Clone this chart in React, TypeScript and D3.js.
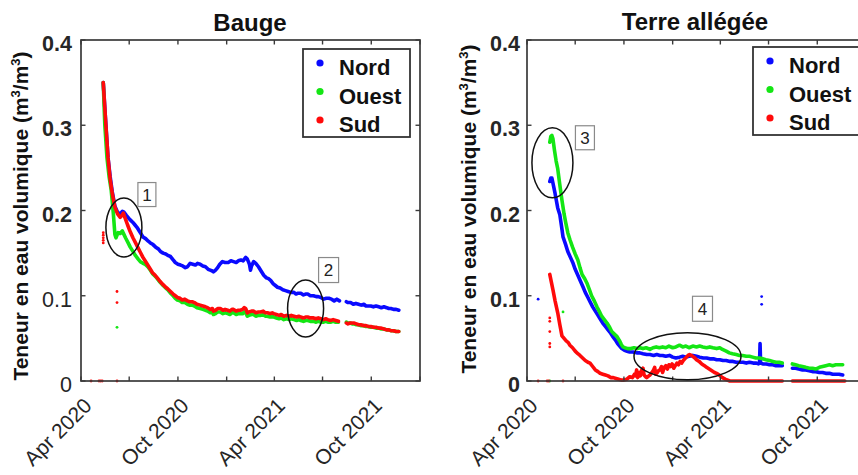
import React from "react";
import * as d3 from "d3";

// ---------- DATA ----------
// Time origin of both panels; series are [days since START, value] (null = gap)
const START = "2020-04-01";
const END = "2022-01-01";
const Y_TICKS = [0, 0.1, 0.2, 0.3, 0.4];
const Y_TICK_LABELS = ["0", "0.1", "0.2", "0.3", "0.4"];
const X_TICK_DATES = ["2020-04-01", "2020-07-01", "2020-10-01", "2021-01-01", "2021-04-01", "2021-07-01", "2021-10-01", "2022-01-01"];
const X_LABEL_DATES = ["2020-04-01", "2020-10-01", "2021-04-01", "2021-10-01"];
const X_LABELS = ["Apr 2020", "Oct 2020", "Apr 2021", "Oct 2021"];
const SERIES_NAMES = ["Nord", "Ouest", "Sud"];
const PANEL_TITLES = ["Bauge", "Terre allégée"];
const Y_LABEL = "Teneur en eau volumique (m";

type Pt = [number, number | null];

const BAUGE_NORD: Pt[] = [[42,0.350],[46,0.31],[51,0.262],[55,0.240],[59,0.222],[64,0.205],[69,0.198],[74,0.196],[78,0.199],[81,0.198],[86,0.194],[90,0.191],[93,0.189],[98,0.186],[102,0.183],[106,0.180],[110,0.176],[114,0.172],[117,0.169],[122,0.167],[127,0.164],[131,0.162],[136,0.160],[141,0.157],[146,0.155],[150,0.152],[155,0.150],[160,0.149],[165,0.147],[169,0.146],[174,0.142],[178,0.139],[183,0.137],[188,0.136],[192,0.135],[197,0.133],[201,0.134],[206,0.138],[211,0.137],[216,0.136],[220,0.138],[225,0.137],[230,0.135],[235,0.134],[240,0.131],[244,0.130],[248,0.129],[250,0.128],[254,0.130],[258,0.133],[262,0.137],[267,0.140],[272,0.139],[278,0.139],[283,0.141],[288,0.140],[293,0.139],[297,0.141],[302,0.142],[306,0.141],[311,0.145],[314,0.143],[316,0.140],[318,0.137],[320,0.130],[322,0.135],[326,0.140],[330,0.138],[335,0.134],[340,0.129],[345,0.124],[350,0.121],[354,0.120],[358,0.118],[363,0.114],[367,0.112],[371,0.110],[376,0.109],[381,0.107],[386,0.106],[391,0.105],[396,0.104],[402,0.104],[406,0.102],[410,0.103],[415,0.103],[420,0.101],[424,0.102],[428,0.102],[433,0.100],[439,0.100],[444,0.099],[448,0.099],[453,0.098],[458,0.096],[463,0.097],[468,0.097],[473,0.096],[478,0.094],[483,0.096],[488,0.094],[495,null],[501,0.093],[504,0.092],[509,0.092],[514,0.090],[519,0.091],[524,0.090],[529,0.089],[534,0.090],[538,0.088],[542,0.088],[547,0.088],[552,0.087],[557,0.088],[562,0.087],[567,0.086],[572,0.087],[577,0.086],[581,0.085],[585,0.085],[590,0.084],[595,0.084],[600,0.083]];

const BAUGE_OUEST: Pt[] = [[42,0.350],[45,0.300],[49,0.262],[53,0.240],[57,0.224],[61,0.197],[64,0.172],[66,0.168],[70,0.174],[74,0.173],[78,0.176],[81,0.172],[84,0.168],[89,0.162],[93,0.157],[98,0.152],[103,0.147],[108,0.143],[112,0.140],[117,0.138],[121,0.137],[126,0.134],[131,0.130],[135,0.126],[140,0.123],[144,0.120],[149,0.116],[155,0.112],[160,0.109],[164,0.107],[169,0.103],[174,0.100],[178,0.097],[182,0.095],[187,0.094],[191,0.092],[196,0.092],[201,0.090],[205,0.089],[210,0.089],[214,0.088],[219,0.086],[225,0.085],[230,0.084],[235,0.083],[239,0.082],[244,0.080],[248,0.081],[250,0.078],[254,0.079],[258,0.081],[263,0.081],[268,0.079],[272,0.080],[277,0.079],[281,0.078],[285,0.080],[288,0.080],[293,0.078],[297,0.079],[301,0.079],[305,0.079],[308,0.081],[311,0.080],[314,0.076],[317,0.077],[322,0.078],[326,0.078],[330,0.076],[335,0.077],[339,0.077],[344,0.078],[348,0.076],[352,0.076],[357,0.075],[361,0.076],[364,0.075],[369,0.074],[374,0.073],[378,0.074],[383,0.072],[388,0.073],[393,0.072],[397,0.073],[402,0.072],[407,0.071],[411,0.072],[415,0.071],[420,0.070],[424,0.071],[428,0.071],[433,0.070],[439,0.070],[444,0.069],[448,0.070],[453,0.069],[458,0.069],[462,0.070],[466,0.069],[471,0.069],[476,0.070],[481,0.069],[486,0.069],[495,null],[501,0.069],[504,0.068],[508,0.068],[512,0.067],[515,0.067],[520,0.066],[524,0.066],[528,0.065],[533,0.065],[538,0.064],[542,0.064],[547,0.063],[552,0.063],[557,0.062],[562,0.062],[567,0.061],[572,0.061],[577,0.060],[581,0.060],[585,0.059],[590,0.059],[595,0.058],[600,0.058]];

const BAUGE_SUD: Pt[] = [[42,0.350],[47,0.300],[51,0.262],[55,0.237],[59,0.220],[64,0.204],[69,0.196],[74,0.192],[77,0.194],[80,0.197],[84,0.190],[88,0.183],[93,0.175],[98,0.168],[103,0.162],[107,0.157],[112,0.151],[117,0.145],[121,0.141],[126,0.136],[131,0.131],[135,0.127],[140,0.124],[144,0.121],[149,0.117],[155,0.113],[160,0.110],[164,0.108],[169,0.105],[174,0.102],[178,0.100],[182,0.098],[187,0.097],[191,0.095],[196,0.096],[201,0.094],[205,0.093],[210,0.093],[214,0.092],[219,0.090],[225,0.089],[230,0.088],[235,0.087],[239,0.086],[244,0.084],[248,0.085],[250,0.082],[254,0.083],[258,0.085],[263,0.085],[268,0.083],[272,0.084],[277,0.083],[281,0.082],[285,0.084],[288,0.084],[293,0.082],[297,0.083],[301,0.083],[305,0.084],[308,0.086],[311,0.085],[314,0.080],[317,0.081],[322,0.082],[326,0.082],[330,0.080],[335,0.081],[339,0.081],[344,0.082],[348,0.080],[352,0.080],[357,0.079],[361,0.080],[364,0.079],[369,0.078],[374,0.077],[378,0.078],[383,0.076],[388,0.077],[393,0.076],[397,0.077],[402,0.076],[407,0.075],[411,0.076],[415,0.075],[420,0.074],[424,0.075],[428,0.075],[433,0.074],[439,0.074],[444,0.073],[448,0.074],[453,0.073],[458,0.072],[462,0.073],[466,0.072],[471,0.071],[476,0.072],[481,0.071],[486,0.070],[495,null],[501,0.068],[504,0.067],[508,0.068],[512,0.068],[515,0.068],[520,0.067],[524,0.066],[528,0.066],[533,0.065],[538,0.065],[542,0.064],[547,0.064],[552,0.063],[557,0.063],[562,0.062],[567,0.062],[572,0.061],[577,0.060],[581,0.060],[585,0.059],[590,0.059],[595,0.058],[600,0.058]];

const TERRE_NORD: Pt[] = [[43,0.234],[45,0.238],[47,0.238],[49,0.232],[53,0.220],[58,0.203],[62,0.195],[66,0.178],[68,0.169],[73,0.160],[77,0.152],[82,0.145],[87,0.138],[91,0.131],[96,0.124],[101,0.117],[106,0.110],[110,0.104],[115,0.098],[119,0.093],[124,0.087],[129,0.082],[134,0.077],[138,0.073],[143,0.068],[148,0.064],[153,0.060],[158,0.056],[162,0.052],[167,0.048],[171,0.044],[175,0.041],[179,0.038],[184,0.036],[189,0.035],[194,0.034],[200,0.034],[207,0.033],[213,0.033],[219,0.032],[226,0.031],[232,0.031],[239,0.030],[245,0.031],[251,0.030],[256,0.030],[262,0.029],[269,0.030],[275,0.028],[281,0.027],[288,0.028],[294,0.029],[300,0.028],[306,0.029],[313,0.030],[320,0.029],[326,0.028],[333,0.027],[339,0.027],[345,0.026],[352,0.026],[358,0.025],[364,0.025],[370,0.024],[376,0.024],[383,0.023],[389,0.023],[395,0.022],[401,0.022],[408,0.022],[414,0.021],[420,0.022],[427,0.021],[433,0.021],[437,0.020],[439,0.021],[440,0.044],[441,0.021],[446,0.020],[452,0.020],[458,0.019],[464,0.019],[470,0.018],[476,0.018],[482,0.018],[492,null],[501,0.015],[507,0.015],[513,0.014],[520,0.013],[526,0.013],[533,0.012],[539,0.011],[545,0.011],[552,0.010],[558,0.010],[564,0.009],[571,0.009],[577,0.008],[583,0.008],[589,0.008],[596,0.007]];

const TERRE_OUEST: Pt[] = [[43,0.280],[45,0.287],[47,0.288],[49,0.284],[52,0.270],[55,0.258],[58,0.249],[62,0.230],[66,0.212],[70,0.196],[73,0.186],[77,0.174],[81,0.166],[86,0.157],[91,0.149],[96,0.142],[100,0.133],[104,0.125],[109,0.120],[113,0.115],[118,0.107],[122,0.100],[127,0.094],[132,0.087],[137,0.081],[141,0.076],[146,0.072],[151,0.068],[156,0.063],[160,0.058],[165,0.055],[170,0.052],[175,0.047],[178,0.043],[181,0.040],[185,0.039],[190,0.038],[196,0.038],[202,0.039],[208,0.038],[213,0.039],[219,0.038],[225,0.039],[232,0.037],[238,0.039],[244,0.040],[250,0.039],[256,0.040],[262,0.039],[268,0.041],[275,0.039],[281,0.040],[288,0.042],[294,0.040],[300,0.041],[306,0.039],[313,0.041],[320,0.040],[326,0.041],[332,0.040],[339,0.039],[345,0.040],[351,0.039],[358,0.038],[364,0.039],[369,0.037],[376,0.035],[382,0.033],[388,0.032],[395,0.031],[401,0.030],[407,0.030],[414,0.029],[420,0.029],[426,0.028],[432,0.027],[439,0.027],[445,0.026],[451,0.025],[458,0.024],[464,0.023],[470,0.022],[476,0.022],[482,0.021],[492,null],[501,0.020],[507,0.019],[513,0.018],[520,0.017],[526,0.016],[533,0.015],[539,0.015],[545,0.014],[552,0.016],[558,0.017],[564,0.018],[571,0.019],[577,0.018],[583,0.019],[589,0.019],[596,0.019]];

const TERRE_SUD: Pt[] = [[43,0.125],[46,0.116],[49,0.107],[53,0.094],[58,0.080],[62,0.066],[66,0.053],[70,0.050],[74,0.047],[78,0.045],[81,0.042],[86,0.039],[91,0.035],[96,0.032],[100,0.030],[105,0.027],[110,0.024],[115,0.022],[119,0.021],[124,0.017],[129,0.013],[134,0.011],[138,0.009],[143,0.008],[148,0.007],[153,0.006],[158,0.004],[163,0.004],[168,0.003],[173,0.002],[178,0.001],[183,0.001],[188,0.002],[194,0.005],[199,0.004],[203,0.008],[205,0.006],[207,0.013],[209,0.004],[212,0.010],[214,0.006],[216,0.012],[219,0.015],[221,0.007],[224,0.005],[226,0.004],[230,0.006],[232,0.007],[236,0.010],[239,0.013],[241,0.016],[243,0.008],[246,0.010],[248,0.012],[251,0.013],[254,0.017],[256,0.010],[259,0.016],[262,0.018],[265,0.014],[268,0.019],[271,0.017],[274,0.020],[277,0.015],[280,0.018],[283,0.021],[286,0.019],[289,0.023],[292,0.021],[295,0.024],[298,0.026],[301,0.028],[304,0.030],[307,0.031],[310,0.030],[313,0.029],[317,0.027],[320,0.025],[325,0.023],[330,0.020],[335,0.018],[339,0.016],[344,0.014],[349,0.012],[354,0.010],[358,0.009],[363,0.007],[369,0.004],[375,0.002],[383,0.000],[400,0.000],[440,0.000],[482,0.000],[492,null],[501,0.000],[550,0.000],[600,0.000]];

// isolated readings (outliers) [day, value]
const BAUGE_NORD_PTS: [number, number][] = [];
const BAUGE_OUEST_PTS: [number, number][] = [[68,0.063]];
const BAUGE_SUD_PTS: [number, number][] = [[42,0.162],[42,0.165],[42,0.168],[42,0.171],[42,0.174],[68,0.105],[68,0.092],[19,0],[34,0],[37,0],[40,0],[68,0]];
const TERRE_NORD_PTS: [number, number][] = [[21,0.096],[443,0.099],[443,0.090]];
const TERRE_OUEST_PTS: [number, number][] = [[68,0.081],[43,0]];
const TERRE_SUD_PTS: [number, number][] = [[43,0.074],[43,0.070],[43,0.058],[43,0.044],[43,0.040],[21,0],[38,0],[41,0],[68,0]];

// annotations: [day, value, number]
const BAUGE_NOTES: [number, number, string][] = [[81, 0.180, "1"], [424, 0.085, "2"]];
const TERRE_NOTES: [number, number, string][] = [[48, 0.256, "3"], [303, 0.029, "4"]];

// ---------- STYLE ----------
const COLORS = ["#0a0aff", "#14e614", "#ff0a0a"];
const FONT = "'Liberation Sans', Arial, Helvetica, sans-serif";
const AX = "#3a3a3a";

type PanelCfg = {
  x0: number; x1: number; y0: number; y1: number;
  title: string; titleX: number; titleY: number;
  series: Pt[][]; pts: [number, number][][];
  legendX: number; legendY: number; legendW: number;
  ylabX: number; ylabY: number; tickLabX: number;
  lightLow: boolean;
  notes: [number, number, string][];
  ell: { rx: number; ry: number; bx: number; by: number; bw: number; bh: number }[];
};

const start = d3.timeParse("%Y-%m-%d")(START)!;
const end = d3.timeParse("%Y-%m-%d")(END)!;
const parse = d3.timeParse("%Y-%m-%d");

function Panel({ c }: { c: PanelCfg }) {
  const x = d3.scaleTime().domain([start, end]).range([c.x0, c.x1]);
  const y = d3.scaleLinear().domain([0, 0.4]).range([c.y1, c.y0]);
  const xd = (d: number) => x(d3.timeDay.offset(start, d));
  const line = d3.line<Pt>()
    .defined((d) => d[1] != null)
    .x((d) => xd(d[0]))
    .y((d) => y(d[1] as number));
  const tk = 4.5;
  return (
    <g>
      <text x={c.titleX} y={c.titleY} textAnchor="middle" fontFamily={FONT} fontWeight="bold" fontSize={24} fill="#111">{c.title}</text>
      <rect x={c.x0} y={c.y0} width={c.x1 - c.x0} height={c.y1 - c.y0} fill="white" stroke="none" />
      {c.series.map((s, i) => (
        <path key={i} d={line(s) || ""} fill="none" stroke={COLORS[i]} strokeWidth={3.6} strokeLinejoin="round" strokeLinecap="round" />
      ))}
      {c.pts.map((p, i) => p.map((d, j) => (
        <circle key={i + "-" + j} cx={xd(d[0])} cy={y(d[1])} r={1.4} fill={COLORS[i]} />
      )))}
      <rect x={c.x0} y={c.y0} width={c.x1 - c.x0} height={c.y1 - c.y0} fill="none" stroke={AX} strokeWidth={1.7} />
      {X_TICK_DATES.map((s, i) => {
        const xx = x(parse(s)!);
        return (
          <g key={i}>
            <line x1={xx} x2={xx} y1={c.y1} y2={c.y1 - tk} stroke={AX} strokeWidth={1.4} />
            <line x1={xx} x2={xx} y1={c.y0} y2={c.y0 + tk} stroke={AX} strokeWidth={1.4} />
          </g>
        );
      })}
      {Y_TICKS.map((v, i) => (
        <g key={i}>
          <line x1={c.x0} x2={c.x0 + tk} y1={y(v)} y2={y(v)} stroke={AX} strokeWidth={1.4} />
          <line x1={c.x1} x2={c.x1 - tk} y1={y(v)} y2={y(v)} stroke={AX} strokeWidth={1.4} />
          <text x={c.tickLabX} y={y(v) + 11} textAnchor="end" fontFamily={FONT} fontSize={21.5}
            fontWeight={c.lightLow && v < 0.15 ? "normal" : "bold"} fill="#262626">{Y_TICK_LABELS[i]}</text>
        </g>
      ))}
      {X_LABEL_DATES.map((s, i) => {
        const xx = x(parse(s)!);
        return (
          <text key={i} transform={`translate(${xx + 12},${c.y1 + 26}) rotate(-45)`} textAnchor="end"
            fontFamily={FONT} fontSize={21} fill="#262626">{X_LABELS[i]}</text>
        );
      })}
      <text transform={`translate(${c.ylabX},${c.ylabY}) rotate(-90)`} textAnchor="middle" fontFamily={FONT}
        fontWeight="bold" fontSize={21} fill="#111">
        {Y_LABEL}<tspan fontSize={13} dy={-8}>3</tspan><tspan dy={8}>/m</tspan><tspan fontSize={13} dy={-8}>3</tspan><tspan dy={8}>)</tspan>
      </text>
      {c.notes.map((n, i) => {
        const e = c.ell[i];
        const cx = xd(n[0]);
        const cy = y(n[1]);
        return (
          <g key={i}>
            <ellipse cx={cx} cy={cy} rx={e.rx} ry={e.ry} fill="none" stroke="#111" strokeWidth={1.5} />
            <rect x={cx + e.bx} y={cy + e.by} width={e.bw} height={e.bh} fill="white" stroke="#8a8a8a" strokeWidth={1.2} />
            <text x={cx + e.bx + e.bw / 2} y={cy + e.by + e.bh / 2 + 6} textAnchor="middle" fontFamily={FONT} fontSize={17} fill="#222">{n[2]}</text>
          </g>
        );
      })}
      <rect x={c.legendX} y={c.legendY} width={c.legendW} height={88} fill="white" stroke="#333" strokeWidth={1.8} />
      {SERIES_NAMES.map((nm, i) => (
        <g key={nm}>
          <circle cx={c.legendX + 17} cy={c.legendY + 14 + i * 28.5} r={3.6} fill={COLORS[i]} />
          <text x={c.legendX + 36} y={c.legendY + 26 + i * 28.5} fontFamily={FONT} fontWeight="bold" fontSize={22} fill="#111">{nm}</text>
        </g>
      ))}
    </g>
  );
}

export default function App() {
  const left: PanelCfg = {
    x0: 81, x1: 420, y0: 40, y1: 381,
    title: PANEL_TITLES[0], titleX: 250, titleY: 31,
    series: [BAUGE_NORD, BAUGE_OUEST, BAUGE_SUD],
    pts: [BAUGE_NORD_PTS, BAUGE_OUEST_PTS, BAUGE_SUD_PTS],
    legendX: 303, legendY: 49, legendW: 107,
    ylabX: 28, ylabY: 216, tickLabX: 72, lightLow: true,
    notes: BAUGE_NOTES,
    ell: [
      { rx: 18, ry: 29.5, bx: 14, by: -45, bw: 18, bh: 24 },
      { rx: 18, ry: 28.5, bx: 13, by: -51, bw: 20, bh: 25 },
    ],
  };
  const right: PanelCfg = {
    x0: 527, x1: 866, y0: 40, y1: 381,
    title: PANEL_TITLES[1], titleX: 695, titleY: 30,
    series: [TERRE_NORD, TERRE_OUEST, TERRE_SUD],
    pts: [TERRE_NORD_PTS, TERRE_OUEST_PTS, TERRE_SUD_PTS],
    legendX: 753, legendY: 47, legendW: 107,
    ylabX: 476, ylabY: 209, tickLabX: 520, lightLow: false,
    notes: TERRE_NOTES,
    ell: [
      { rx: 20.5, ry: 35, bx: 23, by: -37, bw: 19, bh: 24 },
      { rx: 53.5, ry: 23.5, bx: 5, by: -60, bw: 20, bh: 25 },
    ],
  };
  return (
    <svg width={858} height={475} style={{ position: "absolute", left: 0, top: 0, background: "white" }}>
      <rect x={0} y={0} width={858} height={475} fill="white" />
      <Panel c={left} />
      <Panel c={right} />
    </svg>
  );
}
